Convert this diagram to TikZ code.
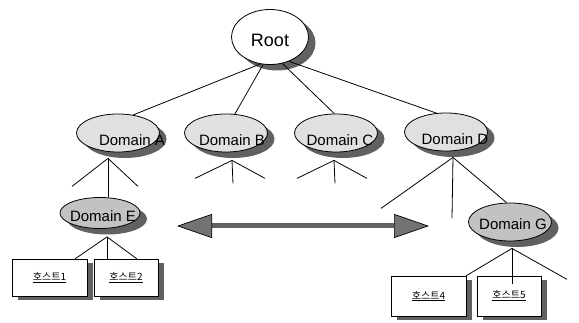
\documentclass[tikz,border=0pt]{standalone}
\usepackage{fontspec}
\setmainfont{Liberation Sans}
\newfontfamily\korfont{Noto Sans CJK KR}
\usetikzlibrary{shapes.geometric, shadows, arrows.meta, calc}
\definecolor{shadowGray}{gray}{0.38}
\definecolor{speckGray}{gray}{0.88}
\definecolor{denseGray}{gray}{0.76}
\definecolor{arrowGray}{gray}{0.45}

\tikzset{
  domainnode/.style={ellipse, draw, line width=0.8pt, inner sep=0pt,
    minimum width=83pt, minimum height=38pt, fill=speckGray,
    drop shadow={shadow xshift=7pt, shadow yshift=-6pt, fill=shadowGray, opacity=1}},
  hostbox/.style={rectangle, draw, line width=0.7pt, fill=white, inner sep=0pt,
    minimum width=75pt, minimum height=37pt,
    drop shadow={shadow xshift=6pt, shadow yshift=-4pt, fill=shadowGray, opacity=1},
    font=\korfont\fontsize{10}{12}\selectfont},
  branch/.style={line width=0.8pt},
  every label/.style={font=\fontsize{15}{18}\selectfont},
}

\begin{document}
\begin{tikzpicture}[x=1pt, y=-1pt]
    \useasboundingbox (0,0) rectangle (579,323);

    % tree nodes
    \node[domainnode, fill=white, minimum width=77pt, minimum height=55pt,
      label={[font=\fontsize{18}{21}\selectfont, yshift=-3pt]center:Root}] (root) at (270,37) {};
    \node[domainnode, label={[xshift=14pt, yshift=-7pt]center:Domain A}] (domA) at (118,133) {};
    \node[domainnode, label={[xshift=6pt, yshift=-7pt]center:Domain B}] (domB) at (226,133) {};
    \node[domainnode, label={[xshift=4pt, yshift=-7pt]center:Domain C}] (domC) at (336,133) {};
    \node[domainnode, label={[xshift=9pt, yshift=-7pt]center:Domain D}] (domD) at (446,132) {};
    \node[domainnode, fill=denseGray, minimum width=80pt, minimum height=31pt,
      label={[xshift=3pt, yshift=-3pt]center:Domain E}] (domE) at (100,213) {};
    \node[domainnode, fill=denseGray,
      label={[xshift=3pt, yshift=-2pt]center:Domain G}] (domG) at (510,222) {};

    % hosts
    \node[hostbox] (h1) at (49.5,277.5) {\underline{호스트1}};
    \node[hostbox, minimum width=64pt] (h2) at (126,277.5) {\underline{호스트2}};
    \node[hostbox, minimum height=40pt] (h4) at (428.5,296) {\underline{호스트4}};
    \node[hostbox, minimum width=64pt, minimum height=40pt] (h5) at (509,296) {\underline{호스트5}};

    % root links
    \draw[branch] (root.-110) -- (domA.50);
    \draw[branch] (root.-104) -- (domB.65);
    \draw[branch] (root.-65) -- (domC.95);
    \draw[branch] (root.-52) -- (domD.117);

    % joints under the domains
    \coordinate (aJoin) at ($(domA.south)+(-10,6)$);
    \coordinate (bJoin) at ($(domB.south)+(6,8)$);
    \coordinate (cJoin) at ($(domC.south)+(-2,8)$);
    \coordinate (dJoin) at ($(domD.south)+(7,6)$);
    \coordinate (eJoin) at ($(domE.south)+(7,8)$);
    \coordinate (gJoin) at ($(domG.south)+(2,7)$);

    \draw[branch] (aJoin) -- ++(-36,28);
    \draw[branch] (aJoin) -- ++(30,28);
    \draw[branch] (aJoin) -- (aJoin |- domE.north);
    \foreach \j in {bJoin, cJoin}
      \foreach \dx/\dy in {-37/18, 1/23, 33/18}
        \draw[branch] (\j) -- ++(\dx,\dy);
    \draw[branch] (dJoin) -- ++(-72,51);
    \draw[branch] (dJoin) -- ++(-1,61);
    \draw[branch] (dJoin) -- (domG.100);

    \draw[branch] (eJoin) -- ($(h1.north east)+(-12,0)$);
    \draw[branch] (eJoin) -- (eJoin |- h2.north);
    \draw[branch] (eJoin) -- ($(h2.north west)+(43,0)$);
    \draw[branch] (gJoin) -- (h4.north east);
    \draw[branch] (gJoin) -- ++(0,36);
    \draw[branch] (gJoin) -- ++(55,31);

    % double arrow
    \coordinate (arL) at (177,226);
    \coordinate (arR) at (429,226);
    \draw[line width=5pt, draw=arrowGray!85!black,
      {Triangle[length=35pt, width=24pt, line width=0.7pt, color=black, fill=arrowGray]}-{Triangle[length=35pt, width=24pt, line width=0.7pt, color=black, fill=arrowGray]}]
      (arL) -- (arR);
\end{tikzpicture}
\end{document}
